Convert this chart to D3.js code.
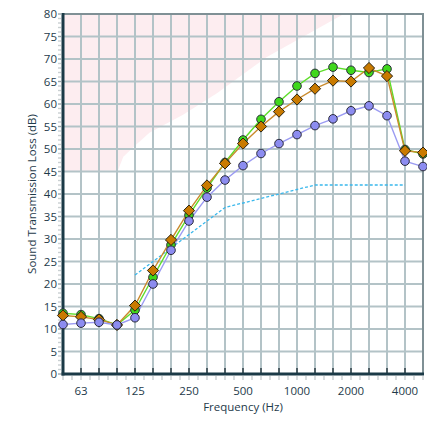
<!DOCTYPE html>
<html><head><meta charset="utf-8">
<script src="https://cdn.jsdelivr.net/npm/d3@7"></script>
<style>
html,body{margin:0;padding:0;background:#fff;}
svg{display:block;font-family:"Open Sans","Noto Sans",sans-serif;}
</style></head>
<body><svg id="c" width="427" height="421"></svg>
<script>
// ---- data ----
const freqs = [50,63,80,100,125,160,200,250,315,400,500,630,800,1000,1250,1600,2000,2500,3150,4000,5000];
const xTickLabels = [63,125,250,500,1000,2000,4000];
const yTicks = [0,5,10,15,20,25,30,35,40,45,50,55,60,65,70,75,80];
const seriesGreen  = [13.5,13.2,12.3,10.9,14.2,21.5,28.7,35.3,41.3,47.0,52.0,56.6,60.5,64.0,66.8,68.2,67.5,67.0,67.8,49.9,48.9];
const seriesOrange = [13.0,12.7,12.1,10.9,15.2,23.0,29.8,36.3,41.9,46.8,51.2,55.0,58.3,61.0,63.4,65.2,65.0,68.0,66.2,49.6,49.2];
const seriesPurple = [11.0,11.3,11.5,10.9,12.5,20.0,27.5,34.0,39.3,43.1,46.3,49.0,51.2,53.2,55.2,56.7,58.5,59.6,57.4,47.3,46.1];
const stcFreqs  = [125,160,200,250,315,400,500,630,800,1000,1250,1600,2000,2500,3150,4000];
const stcValues = [22,25,28,31,34,37,38,39,40,41,42,42,42,42,42,42];
// shaded region boundary: [band index, dB]
const shadeIdx = [0,0,3.05,3.35,3.9,4.8,6.67,8.55,11.3,15.6];
const shadeDb  = [80,45,45.2,48.3,50.4,53.6,57.6,62.4,70.4,80];

// ---- layout ----
const L=63,R=423,T=14,B=374;
const svg=d3.select("#c");
const xi=d3.scaleLinear().domain([0,freqs.length-1]).range([L,R]);
const x=f=>xi(freqs.indexOf(f));
const y=d3.scaleLinear().domain([0,80]).range([B,T]);

// shaded area
svg.append("path")
  .attr("d",d3.line().x(d=>xi(d[0])).y(d=>y(d[1]))(shadeIdx.map((v,i)=>[v,shadeDb[i]])) + "Z")
  .attr("fill","#fdedf0");

// grid
const g=svg.append("g");
g.selectAll(".vg").data(d3.range(1,freqs.length-1)).join("line")
  .attr("x1",d=>xi(d)).attr("x2",d=>xi(d)).attr("y1",T).attr("y2",B)
  .attr("stroke","#b3c3c7").attr("stroke-width",2);
g.selectAll(".hg").data(yTicks.filter(d=>d>0&&d<80)).join("line")
  .attr("x1",L).attr("x2",R).attr("y1",d=>y(d)).attr("y2",d=>y(d))
  .attr("stroke","#b3c3c7").attr("stroke-width",2);
// top/right border
svg.append("line").attr("x1",L).attr("x2",R+1).attr("y1",T).attr("y2",T).attr("stroke","#7f9095").attr("stroke-width",2);
svg.append("line").attr("x1",R).attr("x2",R).attr("y1",T).attr("y2",B).attr("stroke","#7f9095").attr("stroke-width",2);

// minor ticks y
svg.selectAll(".ym").data(d3.range(0,81,1)).join("line")
  .attr("x1",L-5).attr("x2",L-2).attr("y1",d=>y(d)).attr("y2",d=>y(d))
  .attr("stroke",d=>d%5===0?"#98a4a8":"#c9cfd1").attr("stroke-width",1.4);
// minor ticks x
svg.selectAll(".xm").data(d3.range(0,freqs.length-0.5,0.5)).join("line")
  .attr("x1",d=>xi(d)).attr("x2",d=>xi(d)).attr("y1",B+2).attr("y2",B+6)
  .attr("stroke","#c9cfd1").attr("stroke-width",1.4);
// major inner ticks x
svg.selectAll(".xM").data(d3.range(1,freqs.length-1)).join("line")
  .attr("x1",d=>xi(d)).attr("x2",d=>xi(d)).attr("y1",B-6).attr("y2",B)
  .attr("stroke","#4f5f65").attr("stroke-width",2);

// axes lines
svg.append("line").attr("x1",L).attr("x2",L).attr("y1",T-1).attr("y2",B+1.5).attr("stroke","#1b3a47").attr("stroke-width",3);
svg.append("line").attr("x1",L-1.5).attr("x2",R+1).attr("y1",B).attr("y2",B).attr("stroke","#1b3a47").attr("stroke-width",3);

// tick labels
const txtCol="#1e3a4a";
svg.selectAll(".yl").data(yTicks).join("text")
  .attr("x",L-6).attr("y",d=>y(d)).attr("dy","0.35em").attr("text-anchor","end")
  .attr("font-size",11.5).attr("fill",txtCol).text(d=>d);
svg.selectAll(".xl").data(xTickLabels).join("text")
  .attr("x",d=>x(d)).attr("y",B+21).attr("text-anchor","middle")
  .attr("font-size",11.5).attr("fill",txtCol).text(d=>d);
svg.append("text").attr("x",243).attr("y",411).attr("text-anchor","middle")
  .attr("font-size",11.5).attr("fill",txtCol).text("Frequency (Hz)");
svg.append("text").attr("transform","translate(36,194) rotate(-90)").attr("text-anchor","middle")
  .attr("font-size",11.5).attr("fill",txtCol).text("Sound Transmission Loss (dB)");

// STC reference contour
svg.append("path")
  .attr("d",d3.line().x((d,i)=>x(stcFreqs[i])).y(d=>y(d))(stcValues))
  .attr("fill","none").attr("stroke","#3ab8ec").attr("stroke-width",1.3).attr("stroke-dasharray","3,2");

// series
const line=d3.line().x((d,i)=>x(freqs[i])).y(d=>y(d));
const series=[
  {v:seriesGreen,line:"#5ede2a",fill:"#3fd81c",shape:"circle"},
  {v:seriesOrange,line:"#c98a2c",fill:"#c97a00",shape:"diamond"},
  {v:seriesPurple,line:"#9b9bf2",fill:"#8c8cf0",shape:"circle"}
];
series.forEach(s=>{
  svg.append("path").attr("d",line(s.v)).attr("fill","none").attr("stroke",s.line).attr("stroke-width",1.4);
});
series.forEach(s=>{
  const gg=svg.append("g");
  if(s.shape==="circle"){
    gg.selectAll("circle").data(s.v).join("circle")
      .attr("cx",(d,i)=>x(freqs[i])).attr("cy",d=>y(d)).attr("r",4.3)
      .attr("fill",s.fill).attr("stroke","#2a2a3a").attr("stroke-width",1);
  } else {
    gg.selectAll("path").data(s.v).join("path")
      .attr("transform",(d,i)=>`translate(${x(freqs[i])},${y(d)})`)
      .attr("d","M0,-5.6L5.6,0L0,5.6L-5.6,0Z")
      .attr("fill",s.fill).attr("stroke","#2a2210").attr("stroke-width",1);
  }
});
</script></body></html>
